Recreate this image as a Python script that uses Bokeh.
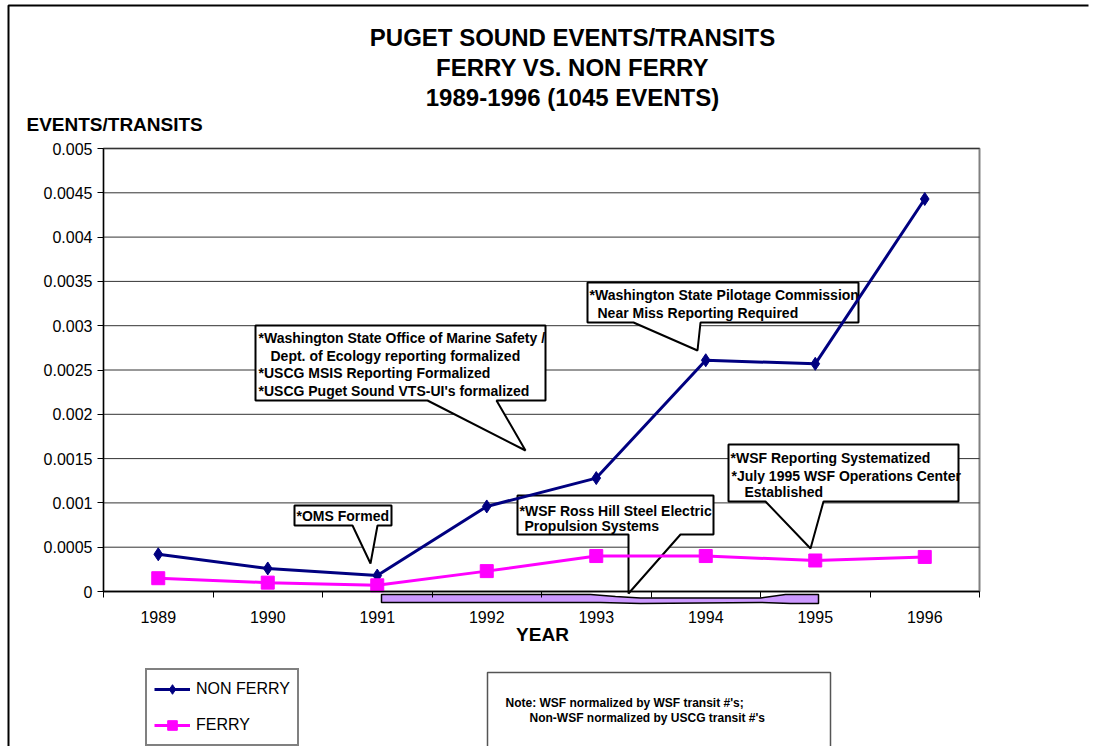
from bokeh.plotting import figure
from bokeh.models import (Range1d, FixedTicker, Legend, LegendItem, Label, BoxAnnotation)
from bokeh.core.properties import value
from bokeh.embed import file_html
from bokeh.resources import INLINE

# ---------------- data ----------------
years = ["1989", "1990", "1991", "1992", "1993", "1994", "1995", "1996"]
non_ferry = [0.00042, 0.00026, 0.00018, 0.00096, 0.00128, 0.00261, 0.00257, 0.00443]
ferry = [0.00015, 0.00010, 0.00007, 0.00023, 0.00040, 0.00040, 0.00035, 0.00039]
y_ticks = [0, 0.0005, 0.001, 0.0015, 0.002, 0.0025, 0.003, 0.0035, 0.004, 0.0045, 0.005]
y_tick_labels = ["0", "0.0005", "0.001", "0.0015", "0.002", "0.0025", "0.003",
                 "0.0035", "0.004", "0.0045", "0.005"]
title_lines = ["PUGET SOUND EVENTS/TRANSITS", "FERRY VS. NON FERRY", "1989-1996 (1045 EVENTS)"]

FONT = "Liberation Sans"
W, H = 1102, 746
MRIGHT = 14
# plot area in canvas pixels
PL, PR, PT, PB = 103, 979, 148, 591
YMAX = 0.005
NCAT = len(years)

# canvas-pixel -> data helpers (used only to place annotations)
def xd(px):
    return (px - PL) / (PR - PL) * NCAT

def yd(py):
    return (PB - py) / (PB - PT) * YMAX

x_pos = [i + 0.5 for i in range(NCAT)]

p = figure(width=W, height=H, output_backend="svg", toolbar_location=None,
           x_range=Range1d(xd(0), xd(W - MRIGHT)), y_range=Range1d(yd(H), yd(0)),
           min_border=0, min_border_right=MRIGHT,
           background_fill_color="white", border_fill_color="white")
p.title.visible = False
p.outline_line_color = None
p.xgrid.visible = False
p.ygrid.visible = False

# axes drawn at fixed data locations inside the frame
xa = p.xaxis[0]
xa.fixed_location = 0
xa.bounds = (0, NCAT)
xa.ticker = FixedTicker(ticks=x_pos, minor_ticks=list(range(NCAT + 1)))
xa.major_label_overrides = {x: y for x, y in zip(x_pos, years)}
xa.major_tick_line_color = None
xa.major_tick_out = 6
xa.major_tick_in = 0
xa.minor_tick_out = 6
xa.minor_tick_in = 0
xa.minor_tick_line_color = "black"
xa.minor_tick_line_width = 1
xa.major_label_standoff = 13
xa.axis_line_width = 1.5

ya = p.yaxis[0]
ya.fixed_location = 0
ya.bounds = (0, YMAX)
ya.ticker = FixedTicker(ticks=y_ticks, minor_ticks=[])
ya.major_label_overrides = {t: l for t, l in zip(y_ticks, y_tick_labels)}
ya.major_tick_out = 6
ya.major_tick_in = 0
ya.major_label_standoff = 5
ya.axis_line_width = 1.2

for ax in (xa, ya):
    ax.axis_line_color = "black"
    ax.major_tick_line_width = 1
    ax.major_label_text_font = FONT
    ax.major_label_text_font_size = "16px"
    ax.major_label_text_color = "black"

# horizontal gridlines from the tick list
p.segment(x0=[0] * (len(y_ticks) - 1), x1=[NCAT] * (len(y_ticks) - 1),
          y0=y_ticks[1:], y1=y_ticks[1:], line_color="#333333", line_width=1)

# ---------------- callouts ----------------
callouts = [
    [(294, 505), (391, 505), (391, 525), (377, 525), (370, 563), (352, 525), (294, 525)],
    [(255, 325), (545, 325), (545, 400), (496, 400), (525, 450), (427, 400), (255, 400)],
    [(587, 282), (858, 282), (858, 322), (700, 322), (697, 350), (633, 322), (587, 322)],
    [(728, 444), (958, 444), (958, 501), (823, 501), (810, 548), (765, 501), (728, 501)],
    [(517, 495), (713, 495), (713, 534), (680, 534), (628, 593), (628, 534), (517, 534)],
]
for pts in callouts:
    p.patch([xd(a) for a, b in pts], [yd(b) for a, b in pts], fill_color="white",
            line_color="black", line_width=2)

callout_texts = [
    (296, 515, "*OMS Formed"),
    (258, 337, "*Washington State Office of Marine Safety /"),
    (270, 355, "Dept. of Ecology  reporting formalized"),
    (258, 372, "*USCG MSIS Reporting Formalized"),
    (258, 390, "*USCG Puget Sound VTS-UI's formalized"),
    (589, 294, "*Washington State Pilotage Commission"),
    (597, 312, "Near Miss Reporting Required"),
    (730, 457, "*WSF Reporting Systematized"),
    (731, 475, "*July 1995 WSF Operations Center"),
    (744, 491, "Established"),
    (519, 510, "*WSF Ross Hill Steel Electric"),
    (524, 525, "Propulsion Systems"),
]
p.text(x=[xd(a) for a, b, t in callout_texts], y=[yd(b) for a, b, t in callout_texts],
       text=[t for a, b, t in callout_texts], text_font=value(FONT), text_font_style="bold",
       text_font_size="14px", text_baseline="middle", text_align="left", text_color="black")

# purple ribbon under the axis
ribbon = [(381, 594), (590, 594), (615, 596), (640, 597.5), (760, 597.5), (785, 594),
          (818, 594), (818, 603), (790, 603), (760, 602), (640, 603), (600, 602), (381, 602)]
p.patch([xd(a) for a, b in ribbon], [yd(b) for a, b in ribbon], fill_color="#CC99FF",
        line_color="black", line_width=1.5)

# outer chart border (only left and top edges fall inside the picture)
border = [(8, 1000), (8, 5), (1400, 5)]
p.line([xd(a) for a, b in border], [yd(b) for a, b in border], line_color="black",
       line_width=2)

# ---------------- series ----------------
r1 = p.line(x_pos, non_ferry, line_color="#000080", line_width=3)
s1 = p.scatter(x_pos, non_ferry, marker="diamond", size=13, fill_color="#000080",
               line_color="#000080")
r2 = p.line(x_pos, ferry, line_color="#FF00FF", line_width=3)
s2 = p.scatter(x_pos, ferry, marker="square", size=13, fill_color="#FF00FF",
               line_color="#FF00FF")

# plot-area border (gray)
p.add_layout(BoxAnnotation(left=0, right=NCAT, bottom=0, top=YMAX, fill_alpha=0,
                           line_color="#808080", line_alpha=1, line_width=2,
                           level="underlay"))

legend = Legend(items=[LegendItem(label="NON FERRY", renderers=[r1, s1]),
                       LegendItem(label="FERRY", renderers=[r2, s2])],
                location=(145, H - 746))
legend.label_text_font = FONT
legend.label_text_font_size = "16px"
legend.label_text_color = "black"
legend.glyph_width = 36
legend.glyph_height = 24
legend.label_height = 24
legend.spacing = 12
legend.padding = 7
legend.margin = 0
legend.label_standoff = 6
legend.border_line_color = "#808080"
legend.border_line_alpha = 1
legend.border_line_width = 2
legend.background_fill_color = "white"
legend.background_fill_alpha = 1
p.add_layout(legend)

# note box
p.add_layout(BoxAnnotation(left=xd(487), right=xd(830), top=yd(672), bottom=yd(747),
                           fill_color="white", fill_alpha=1, line_color="#555555",
                           line_alpha=1, line_width=1.5))

for (yy, t) in zip([37, 67, 97], title_lines):
    p.add_layout(Label(x=xd(572), y=yd(yy), text=t, text_font=FONT, text_font_style="bold",
                       text_font_size="24px", text_align="center", text_baseline="middle",
                       text_color="black"))

p.add_layout(Label(x=xd(26), y=yd(124), text="EVENTS/TRANSITS", text_font=FONT,
                   text_font_style="bold", text_font_size="19px", text_align="left",
                   text_baseline="middle", text_color="black"))

p.add_layout(Label(x=xd(542), y=yd(634), text="YEAR", text_font=FONT,
                   text_font_style="bold", text_font_size="19px", text_align="center",
                   text_baseline="middle", text_color="black"))

for (xx, yy, t) in [(505, 702, "Note: WSF normalized by WSF transit #'s;"),
                    (529, 717, "Non-WSF normalized by USCG transit #'s")]:
    p.add_layout(Label(x=xd(xx), y=yd(yy), text=t, text_font=FONT, text_font_style="bold",
                       text_font_size="12px", text_align="left", text_baseline="middle",
                       text_color="black"))

open("out.html", "w").write(file_html(p, INLINE))
